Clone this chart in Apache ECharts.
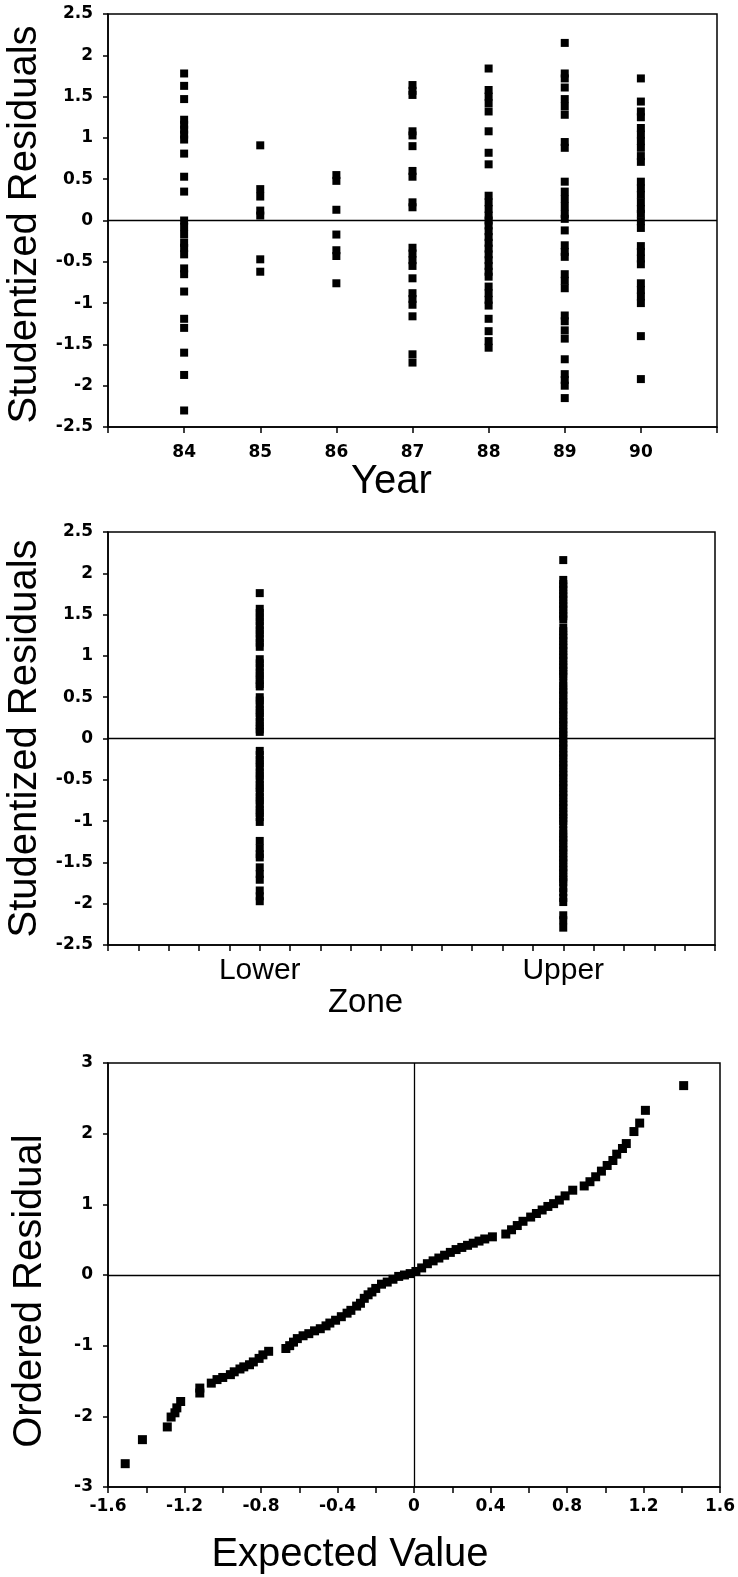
<!DOCTYPE html>
<html>
<head>
<meta charset="utf-8">
<script src="https://cdn.jsdelivr.net/npm/echarts@6/dist/echarts.min.js"></script>
<style>
html, body { margin: 0; padding: 0; background: #fff; }
#chart { width: 738px; height: 1577px; }
</style>
</head>
<body>
<div id="chart"></div>
<script>
// residuals by year (panel 1)
const years = [84, 85, 86, 87, 88, 89, 90];
const res84 = [1.78, 1.63, 1.47, 1.22, 1.16, 1.1, 1.04, 0.98, 0.81, 0.53, 0.35, 0.0, -0.08, -0.17, -0.27, -0.33, -0.41, -0.58, -0.65, -0.86, -1.19, -1.3, -1.6, -1.87, -2.3];
const res85 = [0.91, 0.38, 0.29, 0.12, 0.06, -0.47, -0.62];
const res86 = [0.55, 0.48, 0.13, -0.17, -0.36, -0.43, -0.76];
const res87 = [1.64, 1.57, 1.52, 1.08, 1.03, 0.9, 0.6, 0.53, 0.22, 0.16, -0.33, -0.4, -0.48, -0.55, -0.7, -0.88, -0.95, -1.02, -1.16, -1.62, -1.72];
const res88 = [1.84, 1.58, 1.5, 1.42, 1.32, 1.08, 0.82, 0.68, 0.3, 0.22, 0.14, 0.06, 0.0, -0.06, -0.13, -0.2, -0.27, -0.34, -0.41, -0.48, -0.55, -0.62, -0.68, -0.8, -0.88, -0.96, -1.03, -1.19, -1.34, -1.46, -1.54];
const res89 = [2.15, 1.78, 1.72, 1.61, 1.47, 1.38, 1.28, 0.95, 0.88, 0.47, 0.35, 0.26, 0.17, 0.08, 0.02, -0.12, -0.3, -0.38, -0.44, -0.65, -0.73, -0.82, -1.15, -1.22, -1.33, -1.43, -1.68, -1.86, -1.93, -2.0, -2.15];
const res90 = [1.72, 1.44, 1.32, 1.25, 1.12, 1.04, 0.96, 0.88, 0.78, 0.71, 0.47, 0.39, 0.31, 0.22, 0.14, 0.08, -0.01, -0.09, -0.31, -0.38, -0.46, -0.53, -0.76, -0.84, -0.92, -1.0, -1.4, -1.92];

// residuals by zone (panel 2)
const zoneNames = ['Lower', 'Upper'];
const zoneValues = [5, 15];
const resLower = [1.76, 1.57, 1.52, 1.47, 1.42, 1.37, 1.31, 1.27, 1.21, 1.16, 1.11, 0.96, 0.91, 0.86, 0.8, 0.76, 0.71, 0.66, 0.63, 0.5, 0.46, 0.41, 0.35, 0.31, 0.26, 0.2, 0.16, 0.11, 0.08, -0.15, -0.2, -0.26, -0.3, -0.35, -0.41, -0.45, -0.5, -0.56, -0.6, -0.65, -0.71, -0.75, -0.8, -0.86, -0.9, -0.95, -1.01, -1.24, -1.33, -1.4, -1.44, -1.56, -1.64, -1.71, -1.84, -1.91, -1.97];
const resUpper = [2.16, 1.92, 1.87, 1.84, 1.8, 1.75, 1.72, 1.68, 1.63, 1.6, 1.56, 1.51, 1.48, 1.44, 1.34, 1.3, 1.25, 1.22, 1.18, 1.13, 1.1, 1.06, 1.01, 0.98, 0.94, 0.89, 0.86, 0.82, 0.78, 0.75, 0.68, 0.64, 0.59, 0.56, 0.52, 0.47, 0.44, 0.4, 0.35, 0.32, 0.28, 0.23, 0.2, 0.16, 0.11, 0.08, 0.04, 0.0, -0.05, -0.08, -0.12, -0.17, -0.2, -0.24, -0.29, -0.32, -0.36, -0.41, -0.44, -0.48, -0.53, -0.56, -0.6, -0.65, -0.68, -0.72, -0.77, -0.8, -0.84, -0.89, -0.92, -0.96, -1.0, -1.04, -1.11, -1.15, -1.2, -1.23, -1.27, -1.32, -1.35, -1.39, -1.44, -1.47, -1.51, -1.56, -1.59, -1.63, -1.68, -1.71, -1.74, -1.81, -1.86, -1.93, -1.98, -2.14, -2.2, -2.29];

// normal probability plot (panel 3)
const expectedValue = [-1.51, -1.42, -1.29, -1.27, -1.25, -1.24, -1.22, -1.12, -1.12, -1.06, -1.03, -1.0, -0.96, -0.94, -0.91, -0.89, -0.86, -0.84, -0.81, -0.79, -0.76, -0.67, -0.65, -0.63, -0.61, -0.58, -0.55, -0.52, -0.49, -0.46, -0.44, -0.41, -0.38, -0.35, -0.33, -0.3, -0.28, -0.26, -0.24, -0.22, -0.2, -0.17, -0.14, -0.11, -0.08, -0.05, -0.02, 0.01, 0.04, 0.07, 0.1, 0.13, 0.16, 0.19, 0.22, 0.25, 0.28, 0.31, 0.34, 0.37, 0.41, 0.48, 0.51, 0.54, 0.57, 0.61, 0.64, 0.67, 0.7, 0.73, 0.76, 0.79, 0.83, 0.89, 0.92, 0.95, 0.98, 1.01, 1.04, 1.06, 1.09, 1.11, 1.15, 1.18, 1.21, 1.41];
const orderedResidual = [-2.67, -2.33, -2.15, -2.01, -1.95, -1.88, -1.79, -1.67, -1.6, -1.53, -1.48, -1.45, -1.41, -1.37, -1.33, -1.3, -1.27, -1.23, -1.18, -1.13, -1.08, -1.04, -1.0, -0.95, -0.9, -0.86, -0.83, -0.79, -0.76, -0.72, -0.68, -0.64, -0.59, -0.54, -0.5, -0.44, -0.4, -0.33, -0.28, -0.24, -0.19, -0.13, -0.1, -0.06, -0.02, 0.0, 0.02, 0.05, 0.1, 0.16, 0.2, 0.24, 0.28, 0.32, 0.36, 0.39, 0.42, 0.45, 0.48, 0.51, 0.54, 0.58, 0.64, 0.7, 0.76, 0.82, 0.87, 0.92, 0.97, 1.01, 1.06, 1.12, 1.2, 1.26, 1.32, 1.39, 1.47, 1.55, 1.62, 1.71, 1.79, 1.86, 2.03, 2.15, 2.33, 2.68];
const qqTickLabels = ['-1.6', '-1.2', '-0.8', '-0.4', '0', '0.4', '0.8', '1.2', '1.6'];

const yearSeries = [res84, res85, res86, res87, res88, res89, res90];
const yearData = [];
yearSeries.forEach((list, i) => list.forEach(v => yearData.push([years[i], v])));
const zoneData = [];
[resLower, resUpper].forEach((list, i) => list.forEach(v => zoneData.push([zoneValues[i], v])));
const qqData = expectedValue.map((x, i) => [x, orderedResidual[i]]);

const titleFont = { fontFamily: 'Liberation Sans', fontSize: 40, color: '#000', fontWeight: 'normal' };
const tickFont = { fontFamily: 'DejaVu Sans', fontSize: 17, fontWeight: 'bold', color: '#000' };
const black = { color: '#000', width: 1.5 };

function yAxis(gridIndex, min, max, interval, name, padding) {
    return {
        type: 'value', gridIndex, min, max, interval, name,
        nameLocation: 'middle', nameRotate: 90, nameGap: 58,
        nameTextStyle: { ...titleFont, padding },
        axisLine: { show: true, onZero: false, lineStyle: black },
        axisTick: { show: true, length: 5, lineStyle: black },
        axisLabel: { ...tickFont, margin: 15 },
        splitLine: { show: false }
    };
}

function xAxis(gridIndex, min, max, interval, name, nameGap, nameStyle, formatter, labelStyle) {
    return {
        type: 'value', gridIndex, min, max, interval, name,
        nameLocation: 'middle', nameGap,
        nameTextStyle: { ...titleFont, ...nameStyle },
        axisLine: { show: true, onZero: false, lineStyle: black },
        axisTick: { show: true, length: 6, lineStyle: black },
        axisLabel: { ...labelStyle, formatter, showMinLabel: true, showMaxLabel: true },
        splitLine: { show: false }
    };
}

const zeroLine = (items) => ({
    silent: true, symbol: 'none', label: { show: false },
    lineStyle: { color: '#000', width: 1.3, type: 'solid', opacity: 1 },
    emphasis: { disabled: true },
    data: items
});

const gridBase = { show: true, borderColor: '#000', borderWidth: 1.5, backgroundColor: 'transparent', outerBoundsMode: 'none', containLabel: false };
const marker = { color: '#000', opacity: 1 };

const chart = echarts.init(document.getElementById('chart'), null, { renderer: 'canvas' });
chart.setOption({
    backgroundColor: '#fff',
    animation: false,
    grid: [
        { ...gridBase, left: 108, top: 14, width: 609, height: 413 },
        { ...gridBase, left: 108, top: 532, width: 607, height: 413 },
        { ...gridBase, left: 108, top: 1063, width: 612, height: 424 }
    ],
    xAxis: [
        xAxis(0, 83, 91, 1, 'Year', 30, { padding: [0, 42, 0, 0] },
            v => years.includes(v) ? String(v) : '', { ...tickFont, margin: 17 }),
        xAxis(1, 0, 20, 1, 'Zone', 33, { fontSize: 33, padding: [0, 92, 0, 0] },
            v => { const i = zoneValues.indexOf(v); return i >= 0 ? zoneNames[i] : ''; },
            { fontFamily: 'Liberation Sans', fontSize: 30, color: '#000', margin: 11 }),
        xAxis(2, -1.6, 1.6, 0.2, 'Expected Value', 48, { padding: [0, 128, 0, 0] },
            v => { const s = String(Math.round(v * 10) / 10); return qqTickLabels.includes(s) ? s : ''; },
            { ...tickFont, margin: 11 })
    ],
    yAxis: [
        yAxis(0, -2.5, 2.5, 0.5, 'Studentized Residuals', [0, 8, 0, 0]),
        yAxis(1, -2.5, 2.5, 0.5, 'Studentized Residuals', [0, 0, 0, 0]),
        yAxis(2, -3, 3, 1, 'Ordered Residual', [0, 32, 0, 0])
    ],
    series: [
        {
            type: 'scatter', xAxisIndex: 0, yAxisIndex: 0, data: yearData,
            symbol: 'rect', symbolSize: 8, itemStyle: marker,
            markLine: zeroLine([{ yAxis: 0 }])
        },
        {
            type: 'scatter', xAxisIndex: 1, yAxisIndex: 1, data: zoneData,
            symbol: 'rect', symbolSize: 8, itemStyle: marker,
            markLine: zeroLine([{ yAxis: 0 }])
        },
        {
            type: 'scatter', xAxisIndex: 2, yAxisIndex: 2, data: qqData,
            symbol: 'rect', symbolSize: 9, itemStyle: marker,
            markLine: zeroLine([{ yAxis: 0 }, { xAxis: 0 }])
        }
    ]
});
window.addEventListener('resize', () => chart.resize());
</script>
</body>
</html>
